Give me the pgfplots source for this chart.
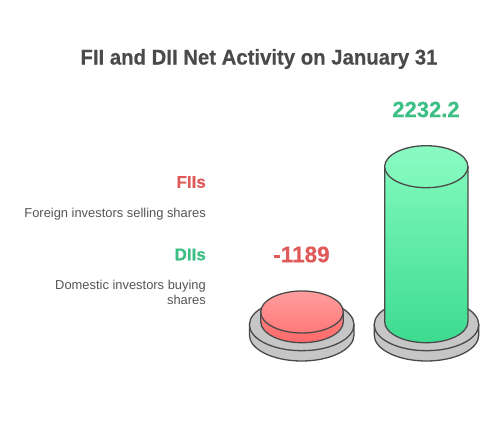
\documentclass[border=0pt]{standalone}
\usepackage{pgfplots}
\pgfplotsset{compat=1.18}
\usepackage{fontspec}
\setmainfont{Liberation Sans}
\newfontfamily\titlefont[FakeStretch=0.95,FakeBold=0.4]{Liberation Sans Bold}
\newfontfamily\numfont[FakeBold=0.4]{Liberation Sans Bold}
\definecolor{stroke}{HTML}{4A4A4A}
\definecolor{plate}{HTML}{C6C6C6}
\definecolor{titlec}{HTML}{4A4A4A}
\definecolor{txt}{HTML}{555555}
\definecolor{redt}{HTML}{E05A5A}
\definecolor{greent}{HTML}{3CBF85}
\definecolor{ra}{HTML}{FF7F7F}
\definecolor{rb}{HTML}{FF6A6A}
\definecolor{rc}{HTML}{FF9E9E}
\definecolor{rd}{HTML}{FF7878}
\definecolor{ga}{HTML}{7DF8BA}
\definecolor{gb}{HTML}{3DDB8F}
\definecolor{gc}{HTML}{8AF9C2}
\newcommand{\plate}[1]{%
  \path[draw=stroke,fill=plate,line width=1.3pt]
    (axis cs:#1-52.3,324.7) -- (axis cs:#1-52.3,335)
    arc[start angle=180,end angle=360,x radius=52.3pt,y radius=26pt]
    -- (axis cs:#1+52.3,324.7) -- cycle;
  \path[draw=stroke,fill=plate,line width=1.3pt]
    (axis cs:#1,324.7) ellipse[x radius=52.3pt,y radius=26pt];
}
\begin{document}
\begin{tikzpicture}
\begin{axis}[
  scale only axis, width=500pt, height=427pt,
  xmin=0, xmax=500, ymin=0, ymax=427, y dir=reverse,
  hide axis, clip=false]
\addplot[draw=white,fill=white,line width=0pt] coordinates {(0,0)(500,0)(500,427)(0,427)} -- cycle;
\plate{301.7}
\plate{426.5}
% red bar (-1189)
\addplot[draw=none,top color=ra,bottom color=rb,forget plot] coordinates {
 (260.7,312)(343.3,312)(343.3,321.7)(341.89,327.14)(337.77,332.2)(331.2,336.55)(322.65,339.89)(312.69,342)(302,342.7)(291.31,342)(281.35,339.89)(272.8,336.55)(266.23,332.2)(262.11,327.14)(260.7,321.7)} -- cycle;
\path[draw=stroke,line width=1.3pt] (axis cs:260.7,312) -- (axis cs:260.7,321.7)
  arc[start angle=180,end angle=360,x radius=41.3pt,y radius=21pt] -- (axis cs:343.3,312);
\path[draw=stroke,line width=1.3pt,top color=rc,bottom color=rd]
  (axis cs:302,312) ellipse[x radius=41.3pt,y radius=21pt];
% green bar (2232.2)
\addplot[draw=none,top color=ga,bottom color=gb,forget plot] coordinates {
 (384.65,166.7)(467.95,166.7)(467.95,321.7)(466.53,327.14)(462.37,332.2)(455.75,336.55)(447.13,339.89)(437.08,342)(426.3,342.7)(415.52,342)(405.48,339.89)(396.85,336.55)(390.23,332.2)(386.07,327.14)(384.65,321.7)} -- cycle;
\path[draw=stroke,line width=1.3pt] (axis cs:384.65,166.7) -- (axis cs:384.65,321.7)
  arc[start angle=180,end angle=360,x radius=41.65pt,y radius=21pt] -- (axis cs:467.95,166.7);
\path[draw=stroke,line width=1.3pt,top color=gc,bottom color=ga]
  (axis cs:426.3,166.7) ellipse[x radius=41.65pt,y radius=21pt];
% text
\node[text=titlec,font=\fontsize{21.4}{26}\titlefont,anchor=center] at (axis cs:259,59) {FII and DII Net Activity on January 31};
\node[text=greent,font=\fontsize{22}{26}\numfont,anchor=center] at (axis cs:426,109.5) {2232.2};
\node[text=redt,font=\fontsize{22.5}{26}\numfont,anchor=center] at (axis cs:301.5,254.5) {-1189};
\node[text=redt,font=\fontsize{17}{20}\numfont,anchor=east,inner sep=0pt] at (axis cs:206,182) {FIIs};
\node[text=greent,font=\fontsize{17}{20}\numfont,anchor=east,inner sep=0pt] at (axis cs:206,254.5) {DIIs};
\node[text=txt,font=\fontsize{12.9}{15}\selectfont,anchor=east,inner sep=0pt] at (axis cs:206,214) {Foreign investors selling shares};
\node[text=txt,font=\fontsize{12.9}{15}\selectfont,anchor=east,inner sep=0pt,align=right] at (axis cs:206,292) {Domestic investors buying\\shares};
\end{axis}
\end{tikzpicture}
\end{document}
